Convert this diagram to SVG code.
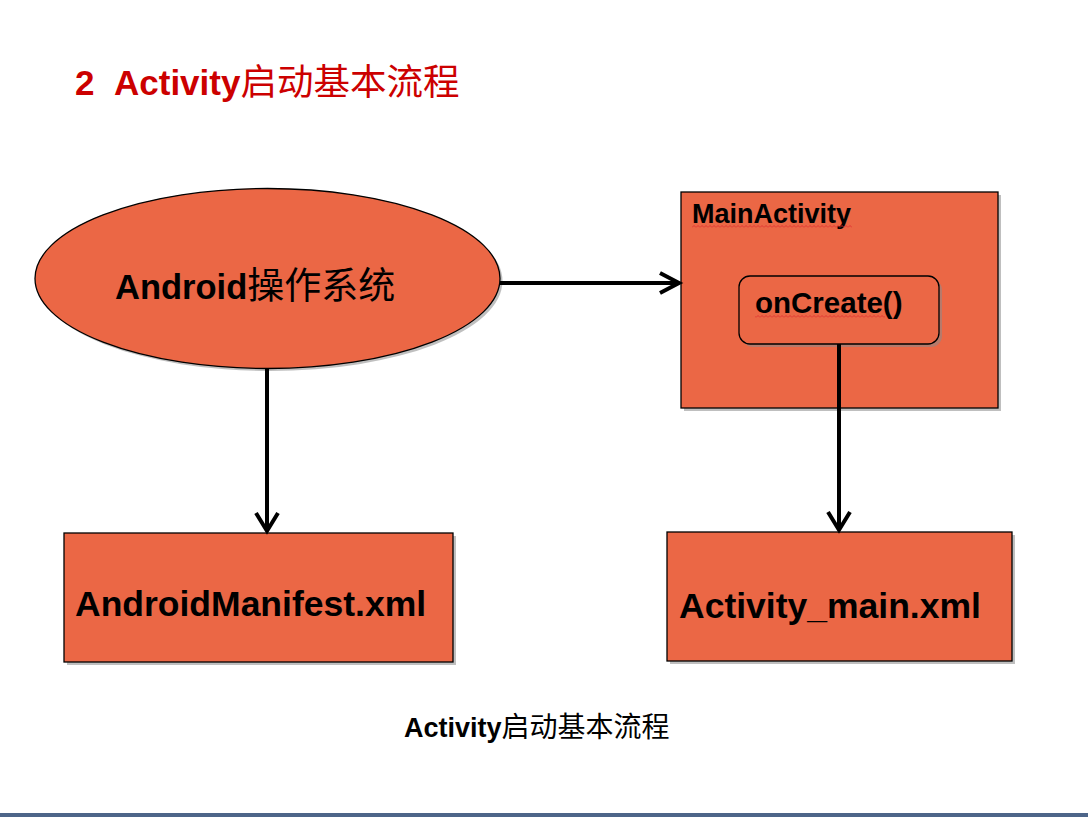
<svg xmlns="http://www.w3.org/2000/svg" width="1088" height="817" viewBox="0 0 1088 817">
<style>
.shape{fill:#EB6745;stroke:#000;stroke-width:1.3}
.shadow{fill:#8a8a8a;opacity:0.55}
.lbl{font-family:"Liberation Sans","Noto Sans CJK SC",sans-serif;font-weight:bold;fill:#000}
.cjk{font-family:"Noto Sans CJK SC","Liberation Sans",sans-serif;font-weight:400}
.conn{fill:none;stroke:#000;stroke-width:4;stroke-linejoin:miter}
</style>
<defs>
<pattern id="sq" width="4" height="3" patternUnits="userSpaceOnUse">
<path d="M0 2.5 L2 0.5 L4 2.5" fill="none" stroke="#e03030" stroke-width="0.9"/>
</pattern>
</defs>
<rect width="1088" height="817" fill="#fff"/>
<g id="title">
<text x="75" y="95" class="lbl" font-size="35" style="fill:#CC0000">2<tspan x="114">Activity</tspan><tspan class="cjk" font-size="36.5">启动基本流程</tspan></text>
</g>
<g id="node-android">
<ellipse cx="270" cy="281" rx="232.5" ry="90" class="shadow"/>
<ellipse cx="267.5" cy="278.5" rx="232.5" ry="90" class="shape"/>
<text x="115" y="299" class="lbl" font-size="34.5">Android<tspan class="cjk" font-size="37">操作系统</tspan></text>
</g>
<g id="node-mainactivity">
<rect x="684" y="195" width="317" height="216" class="shadow"/>
<rect x="681" y="192" width="317" height="216" class="shape"/>
<text x="692" y="223" class="lbl" font-size="27">MainActivity</text>
<rect x="692" y="225" width="160" height="3" fill="url(#sq)"/>
</g>
<g id="node-oncreate">
<rect x="742" y="279" width="200" height="68" rx="11" class="shadow"/>
<rect x="739" y="276" width="200" height="68" rx="11" class="shape"/>
<text x="755" y="313" class="lbl" font-size="29.5">onCreate()</text>
<rect x="755" y="315" width="130" height="3" fill="url(#sq)"/>
</g>
<g id="node-manifest">
<rect x="67" y="536" width="389" height="129" class="shadow"/>
<rect x="64" y="533" width="389" height="129" class="shape"/>
<text x="75" y="616" class="lbl" font-size="35.5">AndroidManifest.xml</text>
</g>
<g id="node-activitymain">
<rect x="670" y="535" width="345" height="129" class="shadow"/>
<rect x="667" y="532" width="345" height="129" class="shape"/>
<text x="679" y="618" class="lbl" font-size="35.5">Activity_main.xml</text>
</g>
<g id="connectors">
<path d="M500 283 H678" class="conn"/>
<path d="M660 273 L679 283 L660 293" class="conn"/>
<path d="M267 369 V531" class="conn"/>
<path d="M256 513 L267 531 L278 513" class="conn"/>
<path d="M839 344 V530" class="conn"/>
<path d="M828 512 L839 530 L850 512" class="conn"/>
</g>
<g id="caption">
<text x="404" y="737" class="lbl" font-size="27">Activity<tspan class="cjk" font-size="28">启动基本流程</tspan></text>
</g>
<rect x="0" y="813" width="1088" height="4" fill="#4d6589"/>
</svg>
